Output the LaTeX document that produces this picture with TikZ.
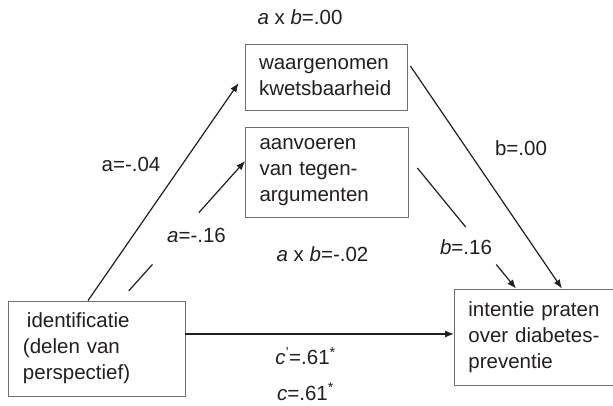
\documentclass[tikz,border=0pt]{standalone}
\usepackage{fontspec}
\setmainfont{Liberation Sans}
\usetikzlibrary{arrows.meta,calc}
\definecolor{ink}{HTML}{231F20}
\definecolor{frame}{HTML}{6D6E71}

\begin{document}
\begin{tikzpicture}[x=1pt,y=-1pt,line join=round,
  txt/.style={font=\fontsize{20.5}{26}\selectfont,text=ink},
  box/.style={txt,draw=frame,line width=0.8pt,align=left,inner xsep=14pt,inner ysep=0pt},
  conn/.style={ink,line width=1.2pt},
  arr/.style={conn,-{Latex[length=9pt,width=7pt]}}]
  \clip (0,0) rectangle (613,405);
  \fill[white] (0,0) rectangle (613,405);

  % ===== variables =====
  \node[box,text width=134pt,minimum height=66pt] (kwets) at (326,77) {waargenomen\\kwetsbaarheid};
  \node[box,text width=135pt,minimum height=90pt] (tegen) at (327,172) {aanvoeren\\van tegen-\\argumenten};
  \node[box,text width=147pt,inner xsep=15pt,minimum height=95pt] (ident) at (96.5,348.5) {\hspace*{4pt}identificatie\\(delen van\\perspectief)};
  \node[box,text width=150pt,minimum height=96pt,anchor=west] (intentie) at (454,337) {intentie praten\\over diabetes-\\preventie};

  % ===== paths =====
  % via perceived vulnerability
  \draw[arr] ($(ident.north)+(-8.5,0)$) -- ($(kwets.west)+(-6,6)$);
  \draw[arr] ($(kwets.east)+(3,-11)$) -- ($(intentie.north west)+(108,0)$);
  % via counter-arguing (broken by the labels)
  \coordinate (t0) at ($(ident.north)+(23.5,0)$);
  \coordinate (t4) at ($(tegen.west)+(0,-11)$);
  \path (t0) -- (t4) coordinate[pos=0.07] (t1) coordinate[pos=0.26] (t2) coordinate[pos=0.63] (t3);
  \draw[conn] (t1) -- (t2);
  \draw[arr] (t3) -- (t4);
  \coordinate (u0) at ($(tegen.east)+(8.5,-4)$);
  \coordinate (u3) at ($(intentie.north west)+(62,0)$);
  \path (u0) -- (u3) coordinate[pos=0.49] (u1) coordinate[pos=0.8] (u2);
  \draw[conn] (u0) -- (u1);
  \draw[arr] (u2) -- (u3);
  % direct effect
  \coordinate (c0) at ($(ident.east)+(0,-14.5)$);
  \draw[arr] (c0) -- (c0 -| intentie.west);

  % ===== coefficients =====
  \node[txt] (ab1) at (300,17) {\textit{a} x \textit{b}=.00};
  \node[txt] (a1) at (131,164) {a=-.04};
  \node[txt] (b1) at (521,148) {b=.00};
  \node[txt] (a2) at (196.5,235) {\textit{a}=-.16};
  \node[txt] (ab2) at (322.5,254) {\textit{a} x \textit{b}=-.02};
  \node[txt] (b2) at (466,247) {\textit{b}=.16};
  \node[txt] (cp) at (305.5,356) {\textit{c}\textsuperscript{'}=.61\textsuperscript{*}};
  \node[txt,anchor=base,inner ysep=1pt] (c) at (305.5,400) {\textit{c}=.61\textsuperscript{*}};
\end{tikzpicture}
\end{document}
